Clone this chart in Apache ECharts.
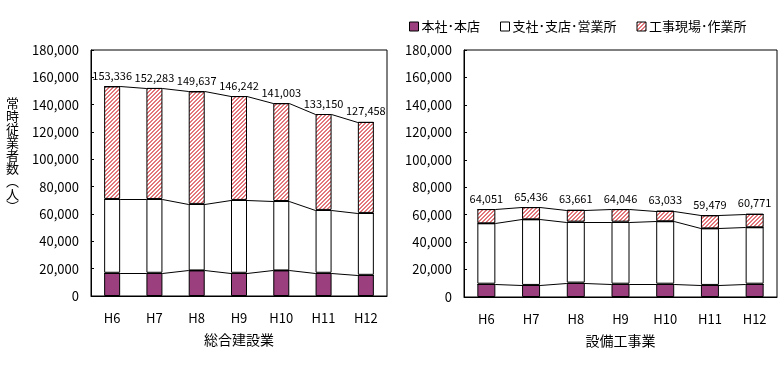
<!DOCTYPE html>
<html><head><meta charset="utf-8">
<script src="https://cdn.jsdelivr.net/npm/echarts@6/dist/echarts.min.js"></script>
<style>html,body{margin:0;padding:0;background:#fff}#c{width:781px;height:384px}</style>
</head><body><div id="c"></div>
<script>
const categories = ['H6','H7','H8','H9','H10','H11','H12'];
const seriesNames = ['本社･本店','支社･支店･営業所','工事現場･作業所'];
// 総合建設業
const genHonsha = [17000,17000,18700,17000,18700,17000,15500];
const genShisha = [54000,54000,48700,53300,50800,46000,45300];
const genGenba  = [82336,81283,82237,75942,71503,70150,66658];
const genTotal  = [153336,152283,149637,146242,141003,133150,127458];
// 設備工事業
const setHonsha = [9700,8800,10500,9700,9700,8800,9700];
const setShisha = [44000,47800,44400,45200,45500,41200,41100];
const setGenba  = [10351,8836,8761,9146,7833,9479,9971];
const setTotal  = [64051,65436,63661,64046,63033,59479,60771];
const yAxisTitle = ['常','時','従','業','者','数','︵','人','︶'];

const FONT = '"Noto Sans CJK JP", sans-serif';
function fmt(n){return String(n).replace(/\B(?=(\d{3})+(?!\d))/g, ',');}

// hatch pattern (pixel stripes, "/" direction)
const pc = document.createElement('canvas');
pc.width = 4; pc.height = 4;
const g = pc.getContext('2d');
g.fillStyle = '#fff'; g.fillRect(0,0,4,4);
g.fillStyle = '#e2767a';
for (let y = 0; y < 4; y++){
  const x0 = (3 - y + 4) % 4;
  g.fillRect(x0, y, 1, 1);
  g.fillRect((x0 + 1) % 4, y, 1, 1);
}
const hatch = {image: pc, repeat: 'repeat'};
const colors = ['#9c3f7f', '#ffffff', hatch];

function cumul(arrs){
  const res = []; let acc = categories.map(()=>0);
  arrs.forEach(a=>{ acc = acc.map((v,i)=>v+a[i]); res.push(acc.slice()); });
  return res;
}

function makeChart(idx, data, totals, bw){
  const series = [];
  data.forEach((arr, k)=>{
    series.push({
      name: seriesNames[k], type:'bar', stack:'s'+idx,
      xAxisIndex: idx, yAxisIndex: idx, barWidth: bw,
      itemStyle:{color: colors[k], borderColor:'#000', borderWidth:1},
      data: arr,
      label: k===2 ? {show:true, position:'top', distance:5, color:'#000',
        fontFamily: FONT, fontSize:11,
        formatter: p => fmt(totals[p.dataIndex])} : {show:false},
      z: 2
    });
  });
  const cums = cumul(data);
  cums.forEach(cum=>{
    series.push({
      type:'custom', xAxisIndex: idx, yAxisIndex: idx, silent:true, z:5,
      data: cum.map((v,i)=>[i, v, i<cum.length-1 ? cum[i+1] : -1]),
      renderItem: function(params, api){
        const p = api.coord([api.value(0), api.value(1)]);
        const h = bw/2;
        const y1 = Math.round(p[1]) + 0.5;
        const pts = [[p[0]-h, y1],[p[0]+h, y1]];
        if (api.value(2) >= 0){
          const q = api.coord([api.value(0)+1, api.value(2)]);
          pts.push([q[0]-h, Math.round(q[1])+0.5]);
        }
        return {type:'polyline', shape:{points: pts}, style:{stroke:'#000', lineWidth:1, fill:null}};
      }
    });
  });
  return series;
}

const chart = echarts.init(document.getElementById('c'), null, {renderer:'canvas'});
const axisLabelY = {fontFamily: FONT, fontSize:13, color:'#000', margin:12, formatter: v=>fmt(v)};
const xCommon = {
  type:'category', data: categories,
  axisLine:{lineStyle:{color:'#000'}},
  axisTick:{inside:true, length:4, lineStyle:{color:'#000'}},
  axisLabel:{fontFamily: FONT, fontSize:13, color:'#000', margin:16},
  nameLocation:'middle', nameGap:37,
  nameTextStyle:{fontFamily: FONT, fontSize:14, color:'#000'}
};
const yCommon = {
  type:'value', min:0, max:180000, interval:20000,
  axisLine:{show:true, lineStyle:{color:'#000'}},
  axisTick:{show:true, inside:true, length:3, lineStyle:{color:'#000'}},
  splitLine:{show:false},
  axisLabel: axisLabelY
};

const titleGraphics = yAxisTitle.map((ch, i)=>({
  type:'text', x: 12.5, y: 103.3 + i*12.9,
  style:{text: ch, font:'13px '+FONT, fill:'#000', align:'center', verticalAlign:'middle'}
}));

chart.setOption({
  animation:false,
  textStyle:{fontFamily: FONT},
  legend:{
    data: seriesNames.map(n=>({name:n, icon:'rect'})),
    left: 404, top: 15, itemWidth:9, itemHeight:9, itemGap:20,
    textStyle:{fontFamily: FONT, fontSize:13, color:'#000', padding:[0,0,0,-2]},
    itemStyle:{borderColor:'#000', borderWidth:1}
  },
  grid:[
    {left:91, right:394, top:50, bottom:88, show:true, borderColor:'#000', borderWidth:1},
    {left:464, right:4, top:50, bottom:87, show:true, borderColor:'#000', borderWidth:1}
  ],
  xAxis:[
    Object.assign({}, xCommon, {gridIndex:0, name:'総合建設業'}),
    Object.assign({}, xCommon, {gridIndex:1, name:'設備工事業'})
  ],
  yAxis:[
    Object.assign({}, yCommon, {gridIndex:0}),
    Object.assign({}, yCommon, {gridIndex:1})
  ],
  graphic: titleGraphics,
  series: [].concat(
    makeChart(0, [genHonsha, genShisha, genGenba], genTotal, 16),
    makeChart(1, [setHonsha, setShisha, setGenba], setTotal, 18)
  )
});
</script></body></html>
